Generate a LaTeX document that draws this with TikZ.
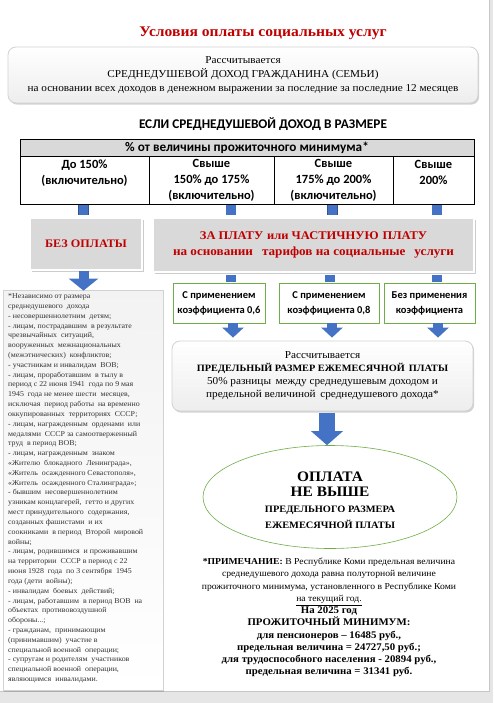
\documentclass[tikz,border=0pt]{standalone}
\usepackage{fontspec}
\setmainfont{Liberation Serif}[FakeStretch=1.06]
\newfontfamily\calfont{Carlito}
\usetikzlibrary{shapes.geometric,arrows.meta,shadows,calc}
\definecolor{titlered}{HTML}{C00000}
\definecolor{arrblue}{HTML}{4472C4}
\definecolor{arrdark}{HTML}{2F5597}
\definecolor{boxgreen}{HTML}{70AD47}
\definecolor{pagegray}{HTML}{E6E6E6}
\newcommand{\fs}[2]{\fontsize{#1}{#2}\selectfont}
\tikzset{
  softbox/.style={draw=gray!35, line width=0.8pt, rounded corners=8pt, top color=white, bottom color=gray!14,
    drop shadow={shadow xshift=1.2pt, shadow yshift=-1.6pt, opacity=.35}, align=center, inner sep=0pt},
  greybox/.style={draw=white, line width=1.6pt, fill=gray!30,
    drop shadow={shadow xshift=1.6pt, shadow yshift=-1.8pt, opacity=.4}, align=center, inner sep=0pt,
    text=titlered, font=\bfseries},
  cell/.style={draw=black, line width=0.8pt, align=center, inner sep=0pt, font=\calfont\bfseries\fs{12.5}{16}},
  greenbox/.style={draw=boxgreen, line width=0.8pt, fill=white, align=center, inner sep=0pt, font=\calfont\bfseries\fs{10.5}{15}},
  stub/.style={draw=arrdark, line width=0.7pt, double=arrblue, double distance=9.5pt},
  blockarrow/.style={draw=arrblue, line width=#1},
  restxt/.style={inner sep=0pt, font=\bfseries},
}
\begin{document}
\begin{tikzpicture}[x=1pt,y=-1pt]
\useasboundingbox (0,0) rectangle (493,703);
\fill[white] (0,0) rectangle (493,703);
\fill[pagegray] (0,691) rectangle (493,703);
\fill[pagegray] (489,0) rectangle (493,703);
\draw[gray!45, line width=0.8pt] (0,691) -- (489,691) -- (489,0);

\node[font=\bfseries\fs{14.7}{16}, text=titlered] (title) at (263,33) {Условия оплаты социальных услуг};

\node[softbox, minimum width=470pt, minimum height=56pt, font=\fs{10.6}{13.8}] (calc1) at (243,75)
  {Рассчитывается\\СРЕДНЕДУШЕВОЙ ДОХОД ГРАЖДАНИНА (СЕМЬИ)\\на основании всех доходов в денежном выражении за последние за последние 12 месяцев};

\node[font=\calfont\bfseries\fs{13.3}{15}] (if) at (263,124) {ЕСЛИ СРЕДНЕДУШЕВОЙ ДОХОД В РАЗМЕРЕ};

\node[cell, fill=gray!30, minimum width=454pt, minimum height=17pt, font=\calfont\bfseries\fs{13.2}{16}] (head) at (247,147.5) {\% от величины прожиточного минимума*};
\node[cell, minimum width=129pt, minimum height=48pt] (c1) at (84.5,180) {До 150\%\\(включительно)\\~};
\node[cell, minimum width=125pt, minimum height=48pt] (c2) at (211.5,180) {Свыше\\150\% до 175\%\\(включительно)};
\node[cell, minimum width=119pt, minimum height=48pt] (c3) at (333.5,180) {Свыше\\175\% до 200\%\\(включительно)};
\node[cell, minimum width=81pt, minimum height=48pt] (c4) at (433.5,180) {Свыше\\200\%\\~};

\node[greybox, minimum width=112pt, minimum height=52pt, font=\bfseries\fs{11.5}{14}] (bez) at (86,244) {БЕЗ ОПЛАТЫ};
\node[greybox, minimum width=321pt, minimum height=54pt, font=\bfseries\fs{11.8}{16}] (plata) at (313.5,245)
  {ЗА ПЛАТУ\hspace{4pt}или ЧАСТИЧНУЮ\hspace{4pt}ПЛАТУ\\{\fs{12.4}{16}на основании\hspace{9pt}тарифов на социальные\hspace{9pt}услуги}};

\coordinate (s1) at (83.5,0);
\coordinate (s2) at (231,0);
\coordinate (s3) at (332.5,0);
\coordinate (s4) at (437,0);
\draw[stub] ([yshift=-1pt]c1.south -| s1) -- ([yshift=2pt]bez.north -| s1);
\draw[stub] ([yshift=-1pt]c2.south -| s2) -- ([yshift=2pt]plata.north -| s2);
\draw[stub] ([yshift=-1pt]c3.south -| s3) -- ([yshift=2pt]plata.north -| s3);
\draw[stub] ([yshift=-1pt]c4.south -| s4) -- ([yshift=2pt]plata.north -| s4);

\node[greenbox, minimum width=92pt, minimum height=40pt] (g1) at (219,303) {С применением\\коэффициента 0,6};
\node[greenbox, minimum width=100pt, minimum height=40pt] (g2) at (329,303) {С применением\\коэффициента 0,8};
\node[greenbox, minimum width=91pt, minimum height=40pt] (g3) at (429.5,303) {Без применения\\коэффициента};

\coordinate (t1) at (231,0);
\coordinate (t2) at (330,0);
\coordinate (t3) at (437,0);
\draw[stub] ([yshift=-2pt]plata.south -| t1) -- ([yshift=1pt]g1.north -| t1);
\draw[stub] ([yshift=-2pt]plata.south -| t2) -- ([yshift=1pt]g2.north -| t2);
\draw[stub] ([yshift=-2pt]plata.south -| t3) -- ([yshift=1pt]g3.north -| t3);

% left note box
\node[softbox, rounded corners=0pt, top color=gray!10, bottom color=white, minimum width=160pt, minimum height=400pt] (note) at (83,490) {};
\node[anchor=north west, inner sep=0pt, align=left, text=black!80, font=\fs{7.45}{9.82}] (notetext) at (8,293.5)
{*Независимо от размера\\
среднедушевого\ \ дохода\\
- несовершеннолетним\ \ детям;\\
- лицам, пострадавшим\ \ в результате\\
чрезвычайных\ \ ситуаций,\\
вооруженных\ \ межнациональных\\
(межэтнических)\ \ конфликтов;\\
- участникам и инвалидам\ \ ВОВ;\\
- лицам, проработавшим\ \ в тылу в\\
период с 22 июня 1941\ \ года по 9 мая\\
1945\ \ года не менее шести\ \ месяцев,\\
исключая\ \ период работы\ \ на временно\\
оккупированных\ \ территориях\ \ СССР;\\
- лицам, награжденным\ \ орденами\ \ или\\
медалями\ \ СССР за самоотверженный\\
труд\ \ в период ВОВ;\\
- лицам, награжденным\ \ знаком\\
«Жителю\ \ блокадного\ \ Ленинграда»,\\
«Житель\ \ осажденного Севастополя»,\\
«Житель\ \ осажденного Сталинграда»;\\
- бывшим\ \ несовершеннолетним\\
узникам концлагерей,\ \ гетто и других\\
мест принудительного\ \ содержания,\\
созданных фашистами\ \ и их\\
соокниками\ \ в период\ \ Второй\ \ мировой\\
войны;\\
- лицам, родившимся\ \ и проживавшим\\
на территории\ \ СССР в период с 22\\
июня 1928\ \ года\ \ по 3 сентября\ \ 1945\\
года (дети\ \ войны);\\
- инвалидам\ \ боевых\ \ действий;\\
- лицам, работавшим\ \ в период ВОВ\ \ на\\
объектах\ \ противовоздушной\\
обороны...;\\
- гражданам,\ \ принимающим\\
(принимавшим)\ \ участие в\\
специальной военной\ \ операции;\\
- супругам и родителям\ \ участников\\
специальной военной\ \ операции,\\
являющимся\ \ инвалидами.};

\draw[blockarrow=10pt, -{Triangle[width=29pt,length=12pt]}] (bez.south -| s1) -- ([yshift=-1pt]note.north -| s1);

% calc box 2
\node[softbox, minimum width=301pt, minimum height=70pt, font=\fs{10.6}{13.1}] (calc2) at (322.5,376)
  {Рассчитывается\\{\bfseries\fs{9.7}{13.1}ПРЕДЕЛЬНЫЙ РАЗМЕР ЕЖЕМЕСЯЧНОЙ\, ПЛАТЫ}\\50\% разницы\, между среднедушевым доходом и\\предельной величиной\, среднедушевого дохода*};

\coordinate (a1) at (233,0);
\coordinate (a2) at (332,0);
\coordinate (a3) at (438,0);
\draw[blockarrow=10pt, -{Triangle[width=21pt,length=10pt]}] (g1.south -| a1) -- ([yshift=3pt]calc2.north -| a1);
\draw[blockarrow=10pt, -{Triangle[width=21pt,length=10pt]}] (g2.south -| a2) -- ([yshift=3pt]calc2.north -| a2);
\draw[blockarrow=10pt, -{Triangle[width=21pt,length=10pt]}] (g3.south -| a3) -- ([yshift=3pt]calc2.north -| a3);

\node[ellipse, draw=boxgreen, line width=0.6pt, minimum width=254pt, minimum height=103pt, inner sep=0pt] (res) at (330,497) {};
\node[restxt, font=\bfseries\fs{14.5}{16}] (res1) at (330,477) {ОПЛАТА};
\node[restxt, font=\bfseries\fs{14.5}{16}] (res2) at (330,492) {НЕ ВЫШЕ};
\node[restxt, font=\bfseries\fs{9.8}{12}] (res3) at (330,510) {ПРЕДЕЛЬНОГО РАЗМЕРА};
\node[restxt, font=\bfseries\fs{9.8}{12}] (res4) at (330,524) {ЕЖЕМЕСЯЧНОЙ ПЛАТЫ};

\coordinate (b1) at (327,0);
\draw[blockarrow=16pt, -{Triangle[width=31pt,length=14pt]}] ([yshift=-2pt]calc2.south -| b1) -- (res.north -| b1);

\node[anchor=north, align=center, inner sep=0pt, font=\fs{9.1}{12.25}] (remark) at (329,558)
  {\textbf{*ПРИМЕЧАНИЕ:} В Республике Коми предельная величина\\
   среднедушевого дохода равна полуторной величине\\
   прожиточного минимума, установленного в Республике Коми\\
   \underline{на текущий год.}\\
   {\bfseries\fs{10.2}{12.25}На 2025 год}\\
   {\bfseries\fs{10.2}{12.25}ПРОЖИТОЧНЫЙ МИНИМУМ:}\\
   {\bfseries\fs{10.2}{12.25}для пенсионеров – 16485 руб.,}\\
   {\bfseries\fs{10.2}{12.25}предельная величина = 24727,50 руб.;}\\
   {\bfseries\fs{10.2}{12.25}для трудоспособного населения - 20894 руб.,}\\
   {\bfseries\fs{10.2}{12.25}предельная величина = 31341 руб.}};
\end{tikzpicture}
\end{document}
